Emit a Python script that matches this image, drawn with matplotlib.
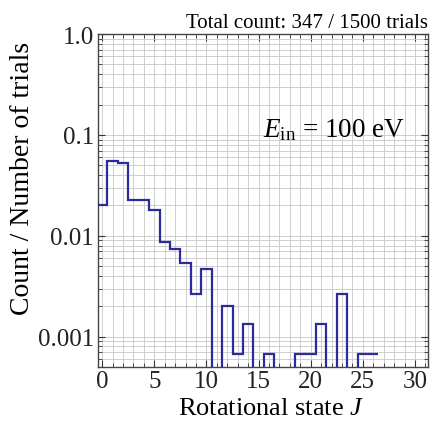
import numpy as np
import matplotlib
matplotlib.use("Agg")
import matplotlib.pyplot as plt
from matplotlib.ticker import MultipleLocator, FixedLocator, FixedFormatter, LogLocator, NullFormatter

# Data
J = list(range(0, 27))
counts = [30, 83, 79, 34, 34, 27, 13, 11, 8, 4, 7, 0, 3, 1, 2, 0, 1, 0, 0, 1, 1, 2, 0, 4, 0, 1, 1]
n_trials = 1500
yticks = [1.0, 0.1, 0.01, 0.001]
ytick_labels = ["1.0", "0.1", "0.01", "0.001"]
xticks = [0, 5, 10, 15, 20, 25, 30]

plt.rcParams['font.family'] = ['Liberation Serif', 'DejaVu Serif']
plt.rcParams['mathtext.fontset'] = 'custom'
plt.rcParams['mathtext.rm'] = 'Liberation Serif'
plt.rcParams['mathtext.it'] = 'Liberation Serif:italic'

fig = plt.figure(figsize=(4.31, 4.27), dpi=100)
ax = fig.add_axes([0.2274, 0.138, 0.7656, 0.780])

vals = np.array(counts, dtype=float) / n_trials
vals_plot = np.where(vals > 0, vals, 1e-8)
edges = np.arange(len(J) + 1) - 0.5
ax.stairs(vals_plot, edges, baseline=None, color='#2b2b9c', lw=1.6, zorder=3)

ax.set_yscale('log')
ax.set_ylim(0.0005, 1.0)
ax.set_xlim(-0.4, 31.25)

ax.yaxis.set_major_locator(FixedLocator(yticks))
ax.yaxis.set_major_formatter(FixedFormatter(ytick_labels))
ax.yaxis.set_minor_locator(LogLocator(base=10, subs=np.arange(2, 10), numticks=20))
ax.yaxis.set_minor_formatter(NullFormatter())
ax.xaxis.set_major_locator(FixedLocator(xticks))
ax.xaxis.set_minor_locator(MultipleLocator(1))

ax.grid(which='both', color='#c8c8c8', lw=0.6, zorder=0)
ax.tick_params(which='both', direction='in', top=True, right=True, labelsize=18, colors='#333333')
ax.tick_params(which='major', length=5, width=0.8)
ax.tick_params(which='minor', length=3, width=0.6)
ax.tick_params(axis='both', which='both', labelcolor='#222222')
ax.tick_params(axis='y', pad=3)
ax.tick_params(axis='x', pad=2)
for s in ax.spines.values():
    s.set_color('#444444')
    s.set_linewidth(1.0)

ax.set_xlabel(r'Rotational state $J$', fontsize=19)
ax.xaxis.set_label_coords(0.525, -0.09)
ax.set_ylabel('Count / Number of trials', fontsize=20)
ax.yaxis.set_label_coords(-0.19, 0.57)

ax.text(1.0, 1.005, 'Total count: 347 / 1500 trials', transform=ax.transAxes,
        ha='right', va='bottom', fontsize=15)
ax.text(0.93, 0.713, r'$E_{\mathrm{in}}$ = 100 eV', transform=ax.transAxes,
        ha='right', va='center', fontsize=19.5)

fig.savefig('out.png', dpi=100, facecolor='white')
